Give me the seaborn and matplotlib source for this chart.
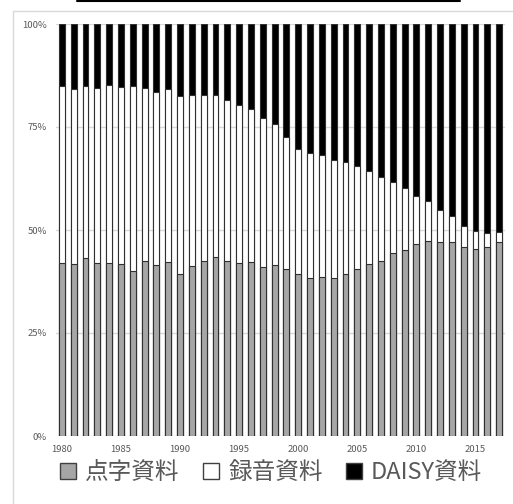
import numpy as np
import pandas as pd
import matplotlib
matplotlib.use("Agg")
import matplotlib.pyplot as plt
from matplotlib.patches import Patch
from matplotlib.lines import Line2D
import seaborn as sns

years = list(range(1980, 2018))

# shares in percent
braille = [41.9, 41.8, 43.1, 41.9, 42.1, 41.8, 40.1, 42.4, 41.6, 42.2,
           39.3, 41.3, 42.5, 43.5, 42.5, 42.1, 42.2, 41.0, 41.5, 40.5,
           39.3, 38.4, 38.5, 38.3, 39.2, 40.5, 41.7, 42.4, 44.3, 45.1,
           46.5, 47.4, 47.0, 47.0, 45.9, 45.5, 45.9, 47.2]
audio = [43.0, 42.4, 41.8, 42.6, 43.2, 43.0, 44.9, 42.1, 41.8, 42.1,
         43.3, 41.5, 40.3, 39.3, 39.1, 38.2, 37.2, 36.1, 34.3, 32.0,
         30.4, 30.4, 29.7, 28.8, 27.2, 25.1, 22.6, 20.5, 17.4, 15.1,
         11.7, 9.6, 7.8, 6.3, 5.1, 4.3, 3.3, 2.3]
daisy = [15.1, 15.8, 15.1, 15.5, 14.7, 15.2, 15.0, 15.5, 16.6, 15.7,
         17.4, 17.2, 17.2, 17.2, 18.4, 19.7, 20.6, 22.9, 24.2, 27.5,
         30.3, 31.2, 31.8, 32.9, 33.6, 34.4, 35.7, 37.1, 38.3, 39.8,
         41.8, 43.0, 45.2, 46.7, 49.0, 50.2, 50.8, 50.5]
series_names = ["点字資料", "録音資料", "DAISY資料"]
y_ticks = [0, 25, 50, 75, 100]
y_tick_labels = ["0%", "25%", "50%", "75%", "100%"]

df = pd.DataFrame({"year": [str(y) for y in years],
                   "braille": braille, "audio": audio, "daisy": daisy})
df["top_audio"] = df["braille"] + df["audio"]
df["top_daisy"] = df["top_audio"] + df["daisy"]

sns.set_style("white")
plt.rcParams["font.family"] = ["Noto Sans CJK JP", "DejaVu Sans"]

colors = {"braille": "#a6a6a6", "audio": "#ffffff", "daisy": "#000000"}
edge = "#303030"
order = df["year"].tolist()

fig = plt.figure(figsize=(5.13, 5.04), dpi=100)
ax = fig.add_axes([56 / 513, 68 / 504, 449 / 513, 412 / 504])

for col, fill in [("top_daisy", colors["daisy"]),
                  ("top_audio", colors["audio"]),
                  ("braille", colors["braille"])]:
    sns.barplot(data=df, x="year", y=col, order=order, color=fill,
                saturation=1, width=0.5, edgecolor=edge, linewidth=0.8,
                errorbar=None, ax=ax, zorder=3)

ax.set_ylim(0, 100)
ax.set_xlim(-0.5, len(years) - 0.5)
ax.set_yticks(y_ticks)
ax.set_yticklabels(y_tick_labels)
xt = [i for i, y in enumerate(years) if y % 5 == 0]
ax.set_xticks(xt)
ax.set_xticklabels([str(years[i]) for i in xt])
ax.tick_params(axis="both", length=0, labelsize=6.8, labelcolor="#595959")
ax.tick_params(axis="x", pad=6.5)
ax.tick_params(axis="y", pad=6.5)
ax.set_xlabel("")
ax.set_ylabel("")
ax.yaxis.grid(True, color="#d9d9d9", linewidth=1, zorder=0)
ax.set_axisbelow(True)
for s in ax.spines.values():
    s.set_visible(False)

handles = [Patch(facecolor=colors[k], edgecolor="#404040", linewidth=1)
           for k in ["braille", "audio", "daisy"]]
leg = fig.legend(handles, series_names, loc="center",
                 bbox_to_anchor=(0.529, 0.062), ncol=3, frameon=False,
                 fontsize=17, handlelength=0.65, handleheight=0.65,
                 handletextpad=0.4, columnspacing=1.0)
for t in leg.get_texts():
    t.set_color("#595959")

# frame of the pasted chart and the cut line above it
fig.add_artist(Line2D([13 / 513, 13 / 513], [0, 1 - 11 / 504],
                      transform=fig.transFigure, color="#d9d9d9", lw=1))
fig.add_artist(Line2D([13 / 513, 1], [1 - 11 / 504, 1 - 11 / 504],
                      transform=fig.transFigure, color="#d9d9d9", lw=1))
fig.add_artist(Line2D([77 / 513, 460 / 513], [1 - 0.8 / 504, 1 - 0.8 / 504],
                      transform=fig.transFigure, color="black", lw=1.5))

fig.savefig("out.png", dpi=100)
